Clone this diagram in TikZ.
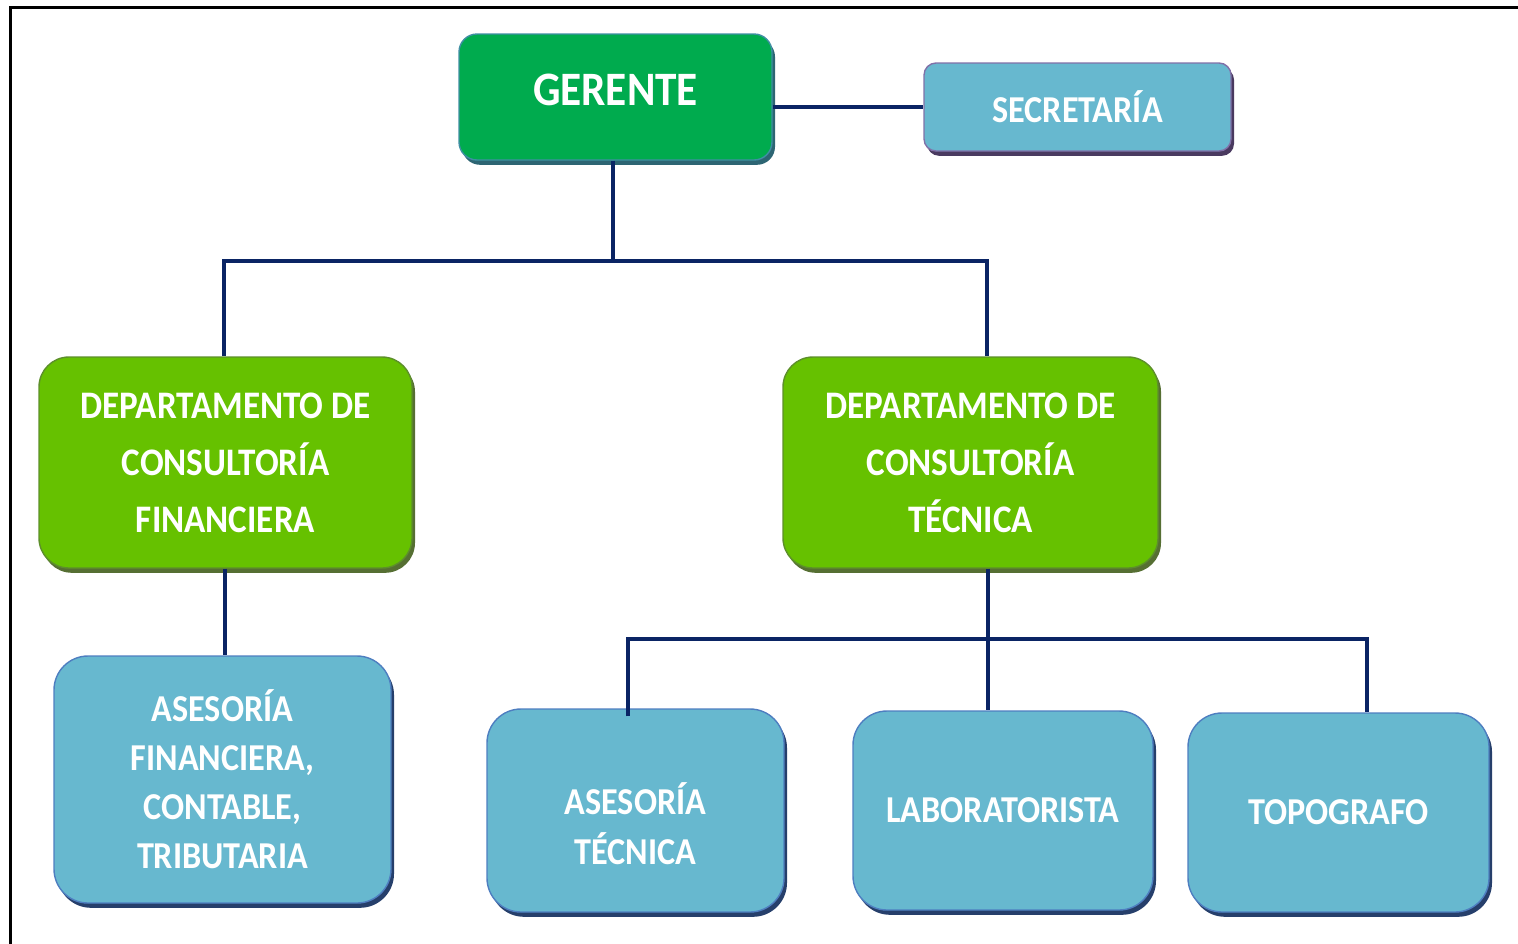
\documentclass[tikz,border=0pt]{standalone}
\usepackage{fontspec}
\setmainfont{Carlito}[FakeStretch=0.9]
\usetikzlibrary{shadows}

\definecolor{gerfill}{HTML}{00AB4E}
\definecolor{gerline}{HTML}{3F8FA3}
\definecolor{gershade}{HTML}{2D6573}
\definecolor{depfill}{HTML}{66C100}
\definecolor{depline}{HTML}{5D8F2B}
\definecolor{depshade}{HTML}{566F33}
\definecolor{unitfill}{HTML}{67B8CF}
\definecolor{unitline}{HTML}{4E7EC0}
\definecolor{unitshade}{HTML}{263F6B}
\definecolor{secline}{HTML}{8070A8}
\definecolor{secshade}{HTML}{4A3A60}
\definecolor{orgline}{HTML}{0A2464}

\tikzset{
  box/.style={draw, line width=0.7pt, inner sep=0pt, align=center,
    text=white, font=\bfseries\fontsize{19}{24.5}\selectfont},
  gerbox/.style={box, fill=gerfill, draw=gerline, rounded corners=9pt,
    font=\bfseries\fontsize{24}{28}\selectfont,
    drop shadow={shadow xshift=1.5pt, shadow yshift=-2.4pt, fill=gershade, opacity=1}},
  depbox/.style={box, fill=depfill, draw=depline, rounded corners=15pt,
    font=\bfseries\fontsize{19.5}{28.5}\selectfont,
    drop shadow={shadow xshift=1.5pt, shadow yshift=-2.4pt, fill=depshade, opacity=1}},
  unitbox/.style={box, fill=unitfill, draw=unitline, rounded corners=17pt,
    drop shadow={shadow xshift=1.5pt, shadow yshift=-2.4pt, fill=unitshade, opacity=1}},
  secbox/.style={box, fill=unitfill, draw=secline, rounded corners=6pt,
    drop shadow={shadow xshift=1.5pt, shadow yshift=-2.4pt, fill=secshade, opacity=1}},
  link/.style={draw=orgline, line width=2.2pt}
}

\begin{document}
\begin{tikzpicture}[x=0.5pt,y=-0.5pt]
\useasboundingbox (0,0) rectangle (1518,943);
\draw[line width=1.5pt] (10,7) rectangle (1540,965);
% top level
\node[gerbox, minimum width=156.5pt, minimum height=63pt, text height=16pt, text depth=8pt]
  (ger) at (615.5,97) {GERENTE};
\node[secbox, minimum width=153.5pt, minimum height=44pt] (sec) at (1077.5,107) {SECRETARÍA};
% departments
\node[depbox, minimum width=186.5pt, minimum height=105.5pt] (dfin) at (225.5,462.5)
  {DEPARTAMENTO DE\\CONSULTORÍA\\FINANCIERA};
\node[depbox, minimum width=187.5pt, minimum height=105.5pt] (dtec) at (970.5,462.5)
  {DEPARTAMENTO DE\\CONSULTORÍA\\TÉCNICA};
% units
\node[unitbox, minimum width=168.5pt, minimum height=123.5pt] (afin) at (222.5,779.5)
  {ASESORÍA\\FINANCIERA,\\CONTABLE,\\TRIBUTARIA};
\node[unitbox, minimum width=148.5pt, minimum height=101.5pt, text height=53.5pt, text depth=0pt]
  (atec) at (635.5,810.5) {ASESORÍA\\[0.5pt]TÉCNICA};
\node[unitbox, minimum width=150pt, minimum height=99.5pt] (lab) at (1003,810.5)
  {LABORATORISTA};
\node[unitbox, minimum width=150.5pt, minimum height=99.5pt] (topo) at (1338.5,812.5)
  {TOPOGRAFO};
% connectors
\coordinate (gbus) at (613,261);
\coordinate (tbus) at (988,639);
\coordinate (tbl) at (628,639);
\coordinate (tbr) at (1367,639);
\draw[link] (ger.east |- sec.west) -- (sec.west);
\draw[link] (ger.south -| gbus) -- (gbus);
\draw[link] (dfin.north -| 224,0) |- (gbus) -| (dtec.north -| 987,0);
\draw[link] (dfin.south -| 225,0) -- (afin.north -| 225,0);
\draw[link] (dtec.south -| tbus) -- (lab.north -| tbus);
\draw[link] ([yshift=-4pt]atec.north -| tbl) -- (tbl) -- (tbr) -- (topo.north -| tbr);
\end{tikzpicture}
\end{document}
